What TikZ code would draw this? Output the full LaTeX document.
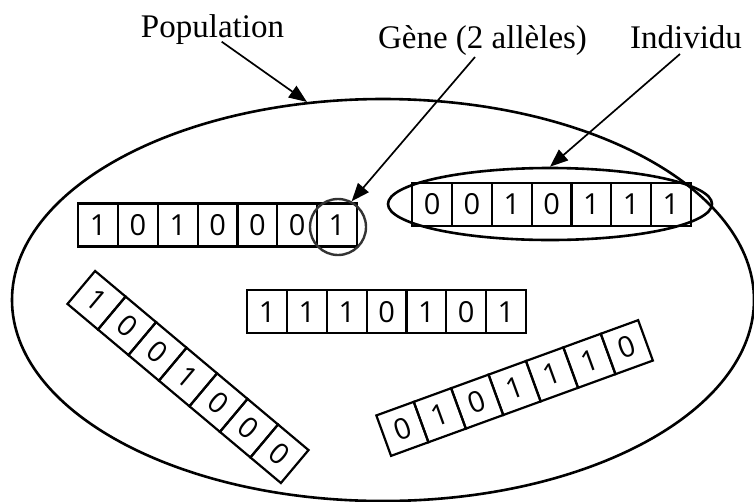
\documentclass[tikz,border=0pt]{standalone}
\usepackage{fontspec}
\setmainfont{Liberation Serif}
\newfontfamily\digitfont{Open Sans}
\usetikzlibrary{shapes.geometric, arrows.meta}
\begin{document}
\begin{tikzpicture}[x=1pt,y=-1pt,
  cell/.style={draw, line width=2.2pt, minimum width=39.8pt, minimum height=43pt, inner sep=0pt, font=\digitfont\fontsize{29}{29}\selectfont},
  lbl/.style={font=\fontsize{33}{33}\selectfont, anchor=base, inner sep=0pt},
  ptr/.style={line width=1.7pt, -{Triangle[length=18pt,width=14pt]}},
  ring/.style={draw, line width=2.6pt, inner sep=0pt}]
\fill[white] (0,0) rectangle (754,501);
\useasboundingbox (0,0) rectangle (754,501);

\node[ring, ellipse, minimum width=742pt, minimum height=402pt] (pop) at (383,300) {};

\foreach \d [count=\i] in {1,0,1,0,0,0,1}
  \node[cell] (a\i) at ({98.2+(\i-1)*39.8}, 225) {\d};
\foreach \d [count=\i] in {0,0,1,0,1,1,1}
  \node[cell] (b\i) at ({432.2+(\i-1)*39.8}, 204.5) {\d};
\foreach \d [count=\i] in {1,1,1,0,1,0,1}
  \node[cell] (c\i) at ({267.2+(\i-1)*39.8}, 311.7) {\d};
\begin{scope}[shift={(188,377)}, rotate=-40, transform shape]
  \foreach \d [count=\i] in {1,0,0,1,0,0,0}
    \node[cell] (d\i) at ({(\i-4)*39.8}, 0) {\d};
\end{scope}
\begin{scope}[shift={(514.6,388)}, rotate=20, transform shape]
  \foreach \d [count=\i] in {0,1,0,1,1,1,0}
    \node[cell] (e\i) at ({(\i-4)*39.8}, 0) {\d};
\end{scope}

\node[draw=black!80, circle, line width=2.4pt, minimum size=56pt, inner sep=0pt] (gene) at (338,227) {};
\node[ring, ellipse, minimum width=324pt, minimum height=72pt] (ind) at (550,204) {};

\node[lbl] (tpop) at (212.5,37) {Population};
\node[lbl] (tgene) at (482.5,48) {Gène (2 allèles)};
\node[lbl] (tind) at (686,48) {Individu};

\coordinate (ps) at (221.7,41.7);
\coordinate (gs) at (475,57);
\coordinate (is) at (680,54);
\draw[ptr] (ps) -- (pop.111.5);
\draw[ptr] (gs) -- (gene.62);
\draw[ptr] (is) -- (ind.north);
\end{tikzpicture}
\end{document}
